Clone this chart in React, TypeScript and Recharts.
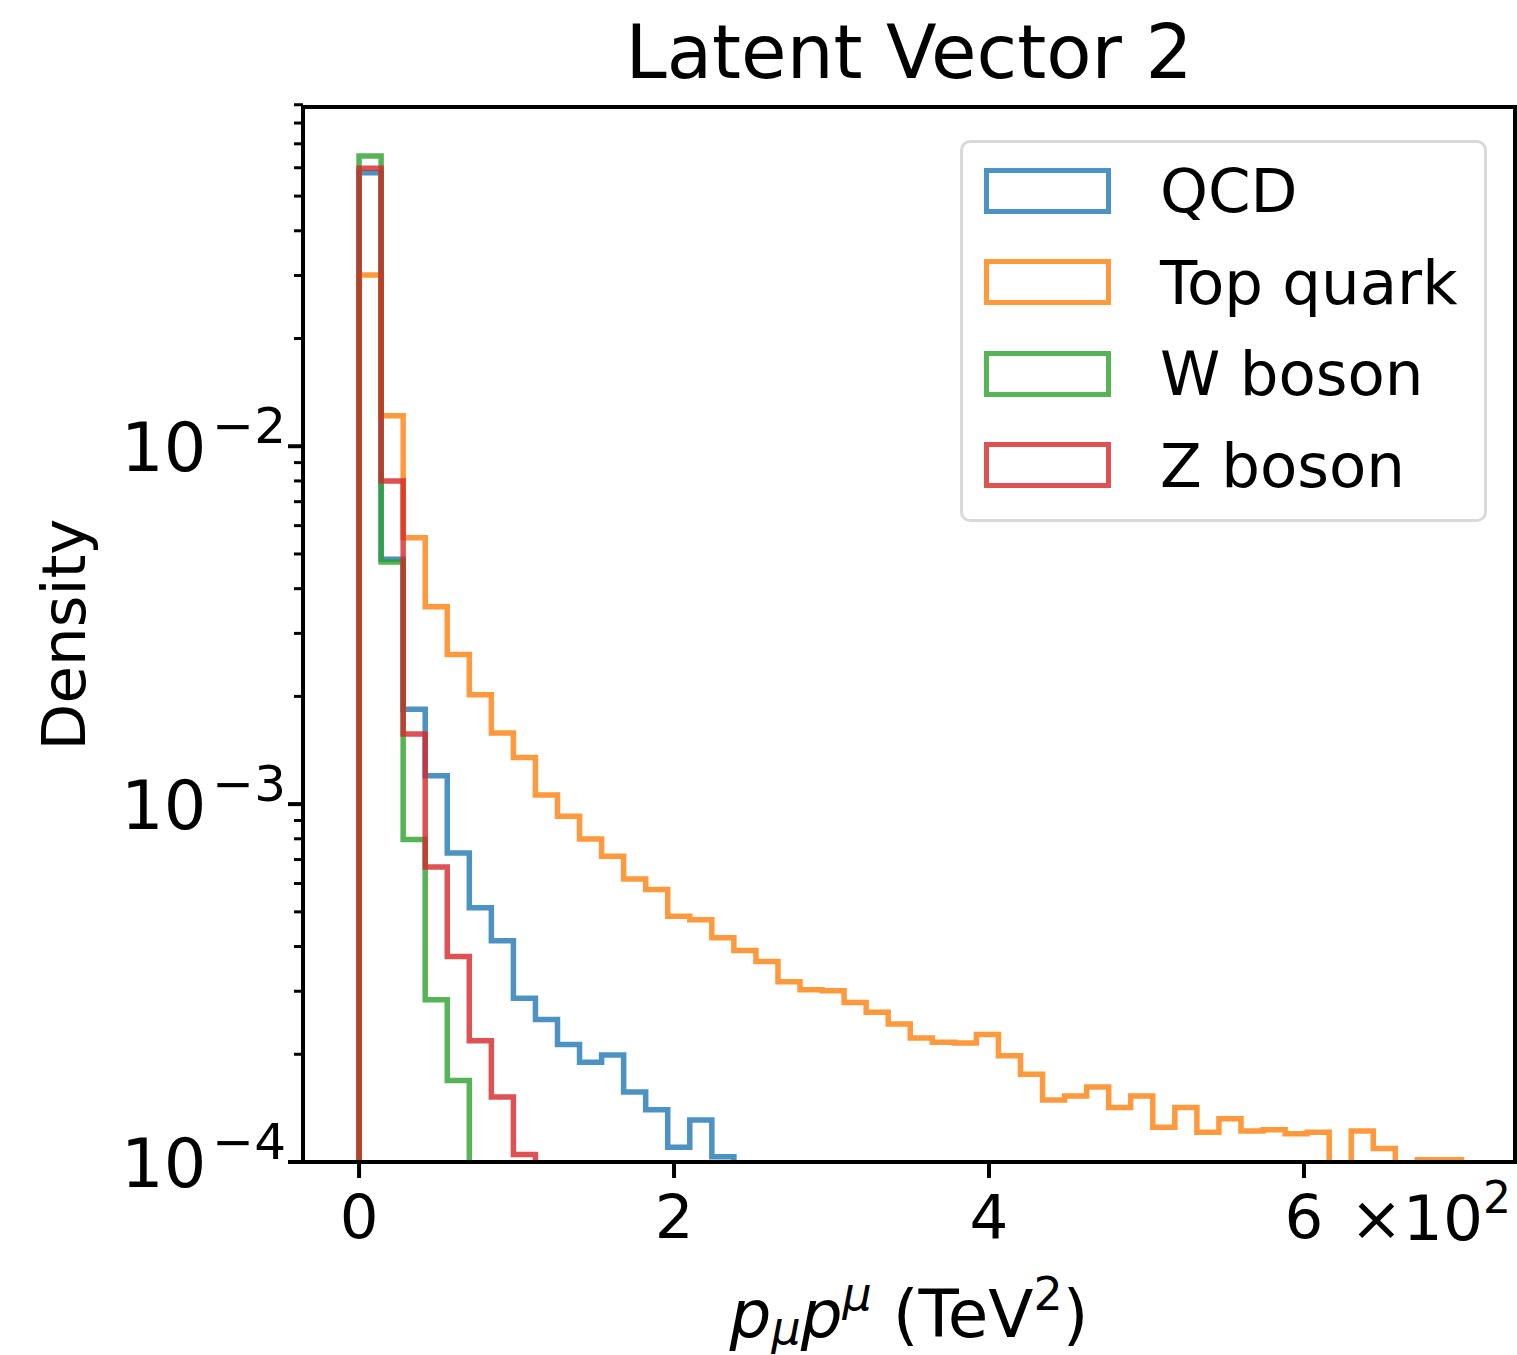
import React from "react";
import {
  ComposedChart,
  Line,
  XAxis,
  YAxis,
  Legend,
  Label,
  ReferenceArea,
} from "recharts";

// histogram densities, shared bins of width 0.14 (x in units of 10^2 TeV^2), starting at 0
const BIN_WIDTH = 0.14;
const qcd = [
  0.0581, 0.00483, 0.00184, 0.0012, 0.00073, 0.000513, 0.000415, 0.000287,
  0.00025, 0.000213, 0.00019, 0.000199, 0.000157, 0.00014, 0.00011, 0.000131,
  0.0001035,
];
const topQuark = [
  0.0301, 0.01216, 0.00555, 0.00356, 0.00262, 0.00202, 0.00158, 0.00135,
  0.00106, 0.000925, 0.000799, 0.000715, 0.000618, 0.000577, 0.000486,
  0.000475, 0.000423, 0.00039, 0.000363, 0.000319, 0.000303, 0.000301,
  0.000279, 0.000262, 0.000243, 0.000222, 0.000216, 0.000215, 0.000227,
  0.000198, 0.000176, 0.000149, 0.000153, 0.000162, 0.000142, 0.000153,
  0.000125, 0.000142, 0.000121, 0.000132, 0.000122, 0.000123, 0.00012,
  0.000121, 0, 0.000122, 0.000109, 0, 0.0001015, 0.0001015,
];
const wBoson = [0.0647, 0.00475, 0.000796, 0.000284, 0.000169];
const zBoson = [
  0.0598, 0.008, 0.00157, 0.000667, 0.000375, 0.000218, 0.000152, 0.000105,
];

const xTicks = [0, 2, 4, 6];
const yDecades = [-4, -3, -2];
const X_DOMAIN = [-0.356, 7.34];
const Y_DOMAIN = [1e-4, 0.0887];

const FONT = "DejaVu Sans";
const FLOOR = 1e-7; // empty bins fall below the visible range

// outline of a step histogram: up from the floor, across each bin, back down
const toSteps = (bins: number[]) => [
  { x: 0, y: FLOOR },
  ...bins.map((v, i) => ({ x: i * BIN_WIDTH, y: v > 0 ? v : FLOOR })),
  { x: bins.length * BIN_WIDTH, y: FLOOR },
];

// major + minor log ticks
const yTicks: number[] = [];
yDecades.forEach((e) => {
  for (let m = 1; m <= 9; m++) yTicks.push(m * Math.pow(10, e));
});

const TICK = 15;
const TICK_GAP = 14;

const YTick = (props: any) => {
  const { x, y, payload } = props;
  const right = x + TICK + TICK_GAP;
  const lg = Math.log10(payload.value);
  const exp = Math.round(lg);
  const major = Math.abs(lg - exp) < 1e-6;
  return (
    <g>
      <line
        x1={right - (major ? TICK : 9)}
        x2={right}
        y1={y}
        y2={y}
        stroke="#000"
        strokeWidth={major ? 4 : 3}
      />
      {major && (
        <text
          x={right - TICK - 2}
          y={y + 25}
          textAnchor="end"
          fontSize={67}
          fontFamily={FONT}
          fill="#000">
          10
          <tspan dx={6} dy={-28} fontSize={50}>
            {"\u2212" + Math.abs(exp)}
          </tspan>
        </text>
      )}
    </g>
  );
};

const XTitle = (props: any) => {
  const { x, y, width } = props.viewBox;
  return (
    <g fontFamily={FONT} fill="#000">
      <text x={x + width / 2} y={y + 175} textAnchor="middle" fontSize={66}>
        <tspan fontStyle="italic">p</tspan>
        <tspan fontStyle="italic" fontSize={46} dy={7}>
          μ
        </tspan>
        <tspan fontStyle="italic" dy={-7}>
          p
        </tspan>
        <tspan fontStyle="italic" fontSize={46} dy={-27}>
          μ
        </tspan>
        <tspan dy={27}>{"\u00a0(TeV"}</tspan>
        <tspan fontSize={46} dy={-27}>
          2
        </tspan>
        <tspan dy={27}>)</tspan>
      </text>
      <text x={x + width - 4} y={y + 78} textAnchor="end" fontSize={63}>
        ×10
        <tspan fontSize={44} dy={-27}>
          2
        </tspan>
      </text>
    </g>
  );
};

const Title = (props: any) => {
  const { x, y, width } = props.viewBox;
  return (
    <text
      x={x + width / 2}
      y={y - 29}
      textAnchor="middle"
      fontSize={74}
      fontFamily={FONT}
      fill="#000">
      Latent Vector 2
    </text>
  );
};

const YTitle = (props: any) => {
  const { x, y, height } = props.viewBox;
  const cx = x - 138;
  const cy = y + height / 2;
  return (
    <text
      x={cx}
      y={cy}
      transform={`rotate(-90, ${cx}, ${cy})`}
      textAnchor="middle"
      fontSize={61}
      fontFamily={FONT}
      fill="#000">
      Density
    </text>
  );
};

const LegendBox = (props: any) => {
  const { payload } = props;
  return (
    <div
      style={{
        width: 527,
        height: 382,
        boxSizing: "border-box",
        border: "3px solid #d9d9d9",
        borderRadius: 10,
        background: "rgba(255,255,255,0.8)",
        paddingTop: 2,
        fontFamily: FONT,
      }}>
      {(payload || []).map((item: any) => (
        <div
          key={item.value}
          style={{ display: "flex", alignItems: "center", height: 91.5 }}>
          <div
            style={{
              marginLeft: 21,
              width: 127,
              height: 46,
              boxSizing: "border-box",
              border: `5px solid ${item.color}`,
              opacity: 0.8,
            }}
          />
          <span
            style={{
              marginLeft: 49,
              fontSize: 61,
              lineHeight: 1,
              color: "#000",
            }}>
            {item.value}
          </span>
        </div>
      ))}
    </div>
  );
};

const series = [
  { name: "QCD", bins: qcd, color: "#1f77b4" },
  { name: "Top quark", bins: topQuark, color: "#ff7f0e" },
  { name: "W boson", bins: wBoson, color: "#2ca02c" },
  { name: "Z boson", bins: zBoson, color: "#d62728" },
];

const App: React.FC = () => {
  return (
    <div
      style={{
        position: "absolute",
        left: 0,
        top: 0,
        width: 1517,
        height: 1355,
        background: "#fff",
      }}>
      <ComposedChart
        width={1517}
        height={1355}
        margin={{ top: 107, right: 2, left: 223, bottom: 133 }}>
        <XAxis
          dataKey="x"
          type="number"
          domain={X_DOMAIN}
          allowDataOverflow
          ticks={xTicks}
          height={60}
          tickSize={16}
          tickMargin={17}
          tick={{ fill: "#000", fontSize: 61, fontFamily: FONT }}
          tickLine={{ stroke: "#000", strokeWidth: 4 }}
          axisLine={{ stroke: "#000", strokeWidth: 4 }}>
          <Label content={XTitle} />
        </XAxis>
        <YAxis
          dataKey="y"
          scale="log"
          type="number"
          domain={Y_DOMAIN}
          allowDataOverflow
          ticks={yTicks}
          interval={0}
          width={80}
          tickSize={TICK}
          tickMargin={TICK_GAP}
          tickLine={false}
          tick={<YTick />}
          axisLine={{ stroke: "#000", strokeWidth: 4 }}>
          <Label content={YTitle} />
        </YAxis>
        <Legend
          layout="vertical"
          align="center"
          verticalAlign="middle"
          wrapperStyle={{ left: 960, top: 140, width: 527 }}
          content={LegendBox}
        />
        {series.map((s) => (
          <Line
            key={s.name}
            name={s.name}
            data={toSteps(s.bins)}
            dataKey="y"
            type="stepAfter"
            stroke={s.color}
            strokeOpacity={0.8}
            strokeWidth={5.5}
            strokeLinejoin="miter"
            dot={false}
            activeDot={false}
            isAnimationActive={false}
          />
        ))}
        {/* axes frame (top and right spines) + title */}
        <ReferenceArea
          x1={X_DOMAIN[0]}
          x2={X_DOMAIN[1]}
          y1={Y_DOMAIN[0]}
          y2={Y_DOMAIN[1]}
          fill="none"
          fillOpacity={0}
          stroke="#000"
          strokeWidth={4}
          strokeOpacity={1}>
          <Label content={Title} />
        </ReferenceArea>
      </ComposedChart>
    </div>
  );
};

export default App;
